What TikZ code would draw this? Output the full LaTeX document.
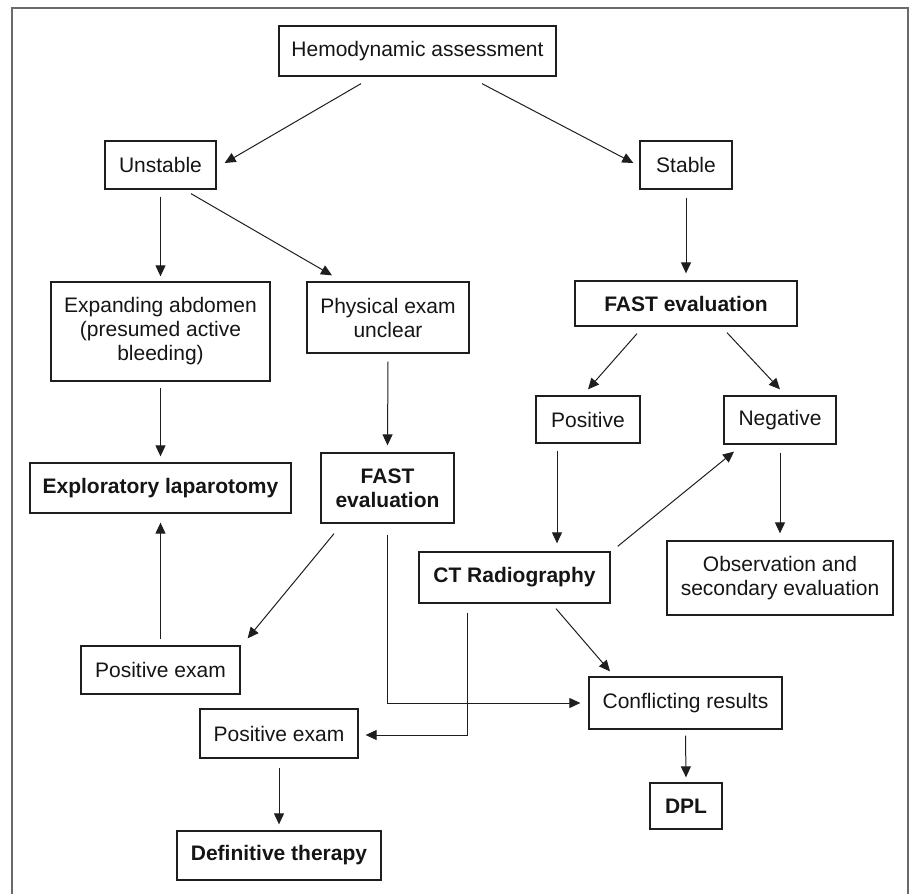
\documentclass[tikz,border=0pt]{standalone}
\usepackage{fontspec}
\setmainfont{Liberation Sans}
\usetikzlibrary{arrows.meta}
\definecolor{linec}{HTML}{1E1E1E}
\definecolor{textc}{HTML}{151515}
\definecolor{framec}{HTML}{6A6A6A}
\begin{document}
\begin{tikzpicture}[x=1pt,y=-1pt,
  box/.style={draw=linec, line width=1.3pt, align=center, inner sep=0pt,
    font=\fontsize{21}{24}\selectfont, text=textc},
  bbox/.style={box, font=\fontsize{21}{24}\selectfont\bfseries},
  sz/.style 2 args={minimum width=#1pt, minimum height=#2pt},
  arr/.style={draw=linec, line width=1pt, -{Triangle[length=11pt,width=10pt]}},
  frame/.style={draw=framec, line width=2pt}
  ]
\useasboundingbox (0,0) rectangle (911,894);
\draw[frame] (12,895) -- (12,7.7) -- (908,7.7) -- (908,895);

\node[box, sz={277}{50}] (hemo) at (417.5,51) {Hemodynamic assessment};
\node[box, sz={111}{48}] (unst) at (160.5,165) {Unstable};
\node[box, sz={92}{48}] (stab) at (686,165) {Stable};
\node[box, sz={219}{99}] (expa) at (160.5,331.5) {Expanding abdomen\\(presumed active\\bleeding)};
\node[box, sz={162}{71}] (phys) at (388,317.5) {Physical exam\\unclear};
\node[bbox, sz={222}{45}] (fastr) at (686,303.5) {FAST evaluation};
\node[box, sz={104}{47}] (posi) at (588,419.5) {Positive};
\node[box, sz={112}{48}] (nega) at (780,420) {Negative};
\node[bbox, sz={261}{50}] (expl) at (160.5,488) {Exploratory laparotomy};
\node[bbox, sz={133}{70}] (fastm) at (387.5,488) {FAST\\evaluation};
\node[bbox, sz={191}{51}] (ct) at (514.5,577.5) {CT Radiography};
\node[box, sz={226}{74}] (obse) at (780,578) {Observation and\\secondary evaluation};
\node[box, sz={159}{48}] (pex1) at (160.5,670) {Positive exam};
\node[box, sz={193}{52}] (conf) at (685.5,703) {Conflicting results};
\node[box, sz={158}{49}] (pex2) at (279,733.5) {Positive exam};
\node[bbox, sz={204}{49}] (defi) at (279,855.5) {Definitive therapy};
\node[bbox, sz={72}{46}] (dpl) at (686,806) {DPL};

\draw[arr] ([shift={(-56.5,7)}]hemo.south) -- ([shift={(8,-2)}]unst.east);
\draw[arr] ([shift={(64.5,7)}]hemo.south) -- ([shift={(-6,-2)}]stab.west);
\draw[arr] ([shift={(0,7)}]unst.south) -- ([shift={(0,-5)}]expa.north);
\draw[arr] ([shift={(30.5,4)}]unst.south) -- ([shift={(-56,-6)}]phys.north);
\draw[arr] ([shift={(0,8)}]stab.south) -- ([shift={(0,-7)}]fastr.north);
\draw[arr] ([shift={(-49,7)}]fastr.south) -- ([shift={(0,-6)}]posi.north);
\draw[arr] ([shift={(41,6)}]fastr.south) -- ([shift={(0,-6)}]nega.north);
\draw[arr] ([shift={(0,6)}]expa.south) -- ([shift={(0,-6)}]expl.north);
\draw[arr] ([shift={(0,8)}]phys.south) -- ([shift={(0,-7)}]fastm.north);
\draw[arr] ([shift={(-31,7)}]posi.south) -- ([shift={(42.5,-8)}]ct.north);
\draw[arr] ([shift={(7,-5)}]ct.north east) -- ([shift={(-46,7)}]nega.south);
\draw[arr] ([shift={(0,8)}]nega.south) -- ([shift={(0,-7)}]obse.north);
\draw[arr] ([shift={(0,-6)}]pex1.north) -- ([shift={(0,9)}]expl.south);
\draw[arr] ([shift={(-53.5,10)}]fastm.south) -- ([shift={(7,-7)}]pex1.north east);
\draw[arr] ([shift={(0,11)}]fastm.south) |- ([shift={(-8,0)}]conf.west);
\draw[arr] ([shift={(41.5,5)}]ct.south) -- ([shift={(-75.5,-5)}]conf.north);
\draw[arr] ([shift={(-47.5,9)}]ct.south) |- ([shift={(7,1.5)}]pex2.east);
\draw[arr] ([shift={(0,6)}]conf.south) -- ([shift={(0,-5)}]dpl.north);
\draw[arr] ([shift={(0,9)}]pex2.south) -- ([shift={(0,-6)}]defi.north);
\end{tikzpicture}
\end{document}
